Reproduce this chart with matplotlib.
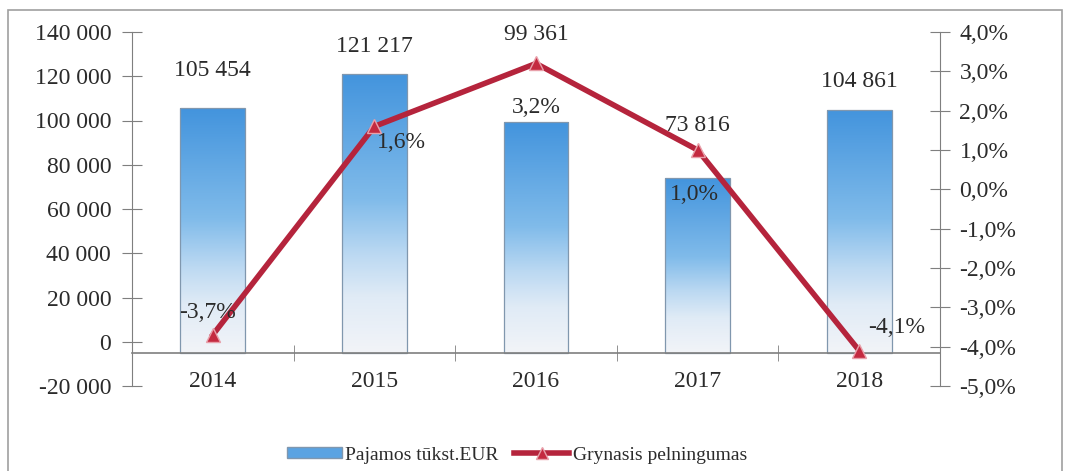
import numpy as np
import matplotlib.pyplot as plt
from matplotlib.colors import LinearSegmentedColormap
from matplotlib.patches import Rectangle
from matplotlib.lines import Line2D

years = ["2014", "2015", "2016", "2017", "2018"]
revenue = [105454, 121217, 99361, 73816, 104861]
revenue_labels = ["105 454", "121 217", "99 361", "73 816", "104 861"]
margin = [-3.7, 1.6, 3.2, 1.0, -4.1]
margin_labels = ["-3,7%", "1,6%", "3,2%", "1,0%", "-4,1%"]
left_ticks = [-20000, 0, 20000, 40000, 60000, 80000, 100000, 120000, 140000]
right_ticks = [-5, -4, -3, -2, -1, 0, 1, 2, 3, 4]

plt.rcParams['font.family'] = ['Liberation Serif', 'DejaVu Serif']

axis_base = -5000
gray = '#7f7f7f'
txt = '#2b2b2b'
red = '#b5243c'
fs = 17

fig = plt.figure(figsize=(10.69, 4.71), dpi=100)
fig.patches.append(Rectangle((8 / 1069, -0.01), 1054 / 1069, 1 - 10 / 471 + 0.01,
                             transform=fig.transFigure, fill=False,
                             edgecolor='#a0a0a0', linewidth=1.2))

ax = fig.add_axes([132 / 1069, 1 - 386 / 471, 808 / 1069, 354 / 471])
ax2 = ax.twinx()

x = np.arange(len(years))
cmap = LinearSegmentedColormap.from_list(
    'bar', [(0, '#f2f4f8'), (0.2, '#e0ebf6'), (0.35, '#bcd9f2'),
            (0.55, '#80bbea'), (1, '#4394dd')])
grad = np.linspace(0, 1, 256).reshape(-1, 1)
bars = ax.bar(x, np.array(revenue) - axis_base, bottom=axis_base, width=0.4,
              color='none', edgecolor='#8097ae', linewidth=0.9, zorder=2)
for b in bars:
    x0, y0, w, h = b.get_x(), b.get_y(), b.get_width(), b.get_height()
    im = ax.imshow(grad, cmap=cmap, origin='lower', aspect='auto',
                   extent=(x0, x0 + w, y0, y0 + h), zorder=1)
    im.set_clip_path(b)

ax.set_xlim(-0.5, len(years) - 0.5)
ax.set_ylim(-20000, 140000)
ax.set_yticks(left_ticks)
ax.set_yticklabels([f"{v:,}".replace(",", " ") for v in left_ticks])

ax.spines['top'].set_visible(False)
ax.spines['right'].set_visible(False)
ax.spines['left'].set_color(gray)
ax.spines['bottom'].set_position(('data', axis_base))
ax.spines['bottom'].set_color(gray)
ax.spines['bottom'].set_linewidth(1.2)
ax.tick_params(axis='y', direction='inout', length=14, color=gray, labelsize=fs,
               labelcolor=txt, pad=8)
ax.set_xticks(x)
ax.set_xticklabels(years)
ax.set_xticks(x[:-1] + 0.5, minor=True)
ax.tick_params(axis='x', which='major', length=0, labelsize=fs, labelcolor=txt, pad=13)
ax.tick_params(axis='x', which='minor', direction='inout', length=12, color=gray)

for xi, v, lab, dy in zip(x, revenue, revenue_labels, [38, 27, 87, 53, 28]):
    ax.annotate(lab, (xi, v), xytext=(0, dy), textcoords='offset pixels',
                ha='center', va='center', fontsize=fs, color=txt)

ax2.plot(x, margin, color=red, linewidth=4, marker='^', markersize=10,
         markerfacecolor='#c42a40', markeredgecolor='#e8a0aa', markeredgewidth=1,
         zorder=3)
ax2.set_ylim(-5, 4)
ax2.set_yticks(right_ticks)
ax2.set_yticklabels([f"{v:.1f}%".replace(".", ",") for v in right_ticks])
for s in ['top', 'left', 'bottom']:
    ax2.spines[s].set_visible(False)
ax2.spines['right'].set_color(gray)
ax2.tick_params(axis='y', direction='inout', length=14, color=gray, labelsize=fs,
                labelcolor=txt, pad=7)

offsets = [(-5, 22), (27, -16), (0, -44), (-3, -44), (37, 23)]
for xi, v, lab, (dx, dy) in zip(x, margin, margin_labels, offsets):
    ax2.annotate(lab, (xi, v), xytext=(dx, dy), textcoords='offset pixels',
                 ha='center', va='center', fontsize=fs, color=txt, zorder=4)

handles = [Rectangle((0, 0), 1, 1, facecolor='#5aa3e2', edgecolor='#8097ae'),
           Line2D([], [], color=red, linewidth=4, marker='^', markersize=8,
                  markerfacecolor='#c42a40', markeredgecolor='#e8a0aa')]
fig.legend(handles, ["Pajamos tūkst.EUR", "Grynasis pelningumas"],
           loc='center', bbox_to_anchor=(517 / 1069, 1 - 455 / 471), ncol=2,
           frameon=False, fontsize=14, handlelength=2.8, handleheight=0.5,
           columnspacing=0.8, handletextpad=0.2, labelcolor=txt)

fig.savefig('out.png', dpi=100)
